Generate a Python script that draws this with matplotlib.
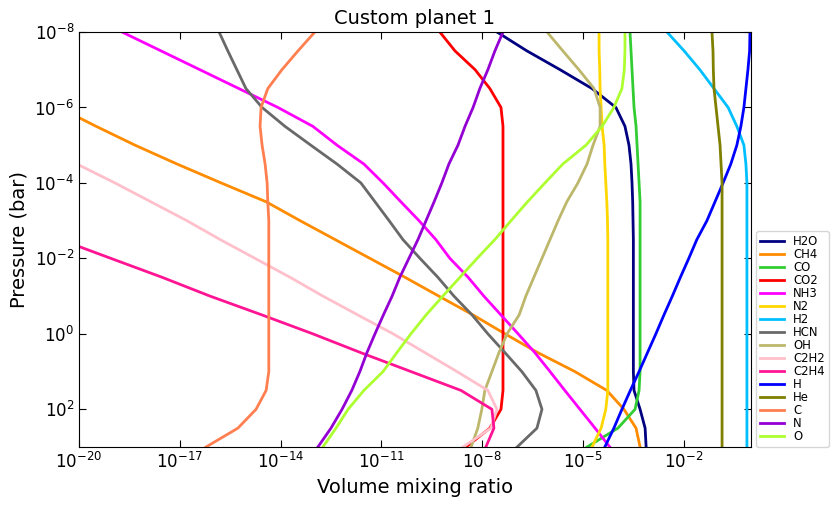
import numpy as np
import matplotlib
matplotlib.use('Agg')
import matplotlib.pyplot as plt
from matplotlib.ticker import FixedLocator, NullLocator, LogFormatterSciNotation

nan = np.nan

# pressure grid, log10(bar)
log_p = [-8, -7.5, -7, -6.5, -6, -5.5, -5, -4.5, -4, -3.5, -3, -2.5,
         -2, -1.5, -1, -0.5, 0, 0.5, 1, 1.5, 2, 2.5, 3]

# log10 volume mixing ratios
h2o = [-7.56, -6.67, -5.68, -4.73, -4.02, -3.75, -3.63, -3.57, -3.54, -3.52, -3.51, -3.5,
       -3.5, -3.5, -3.5, -3.5, -3.5, -3.5, -3.5, -3.48, -3.30, -3.15, -3.12]
ch4 = [nan, nan, nan, -21.4, -20.6, -19.49, -18.33, -17.08, -15.77, -14.43, -13.42, -12.38,
       -11.34, -10.30, -9.29, -8.27, -7.32, -6.34, -5.24, -4.29, -3.78, -3.42, -3.30]
co = [-3.60, -3.57, -3.54, -3.51, -3.48, -3.42, -3.39, -3.36, -3.33, -3.30, -3.30, -3.30,
      -3.30, -3.30, -3.30, -3.30, -3.30, -3.30, -3.30, -3.33, -3.45, -3.96, -4.88]
co2 = [-9.26, -8.81, -8.21, -7.77, -7.44, -7.38, -7.38, -7.38, -7.38, -7.38, -7.38, -7.38,
       -7.38, -7.38, -7.38, -7.38, -7.38, -7.38, -7.38, -7.38, -7.44, -7.77, -8.48]
nh3 = [-18.72, -17.56, -16.40, -15.24, -14.08, -13.04, -12.32, -11.52, -10.95, -10.42, -9.88, -9.38,
       -8.96, -8.42, -7.95, -7.44, -6.93, -6.43, -5.98, -5.54, -5.09, -4.64, -4.20]
n2 = [-4.52, -4.52, -4.50, -4.49, -4.46, -4.43, -4.37, -4.35, -4.32, -4.29, -4.27, -4.26,
      -4.26, -4.26, -4.26, -4.26, -4.26, -4.26, -4.26, -4.26, -4.32, -4.46, -4.73]
h2 = [-2.50, -1.99, -1.52, -1.10, -0.68, -0.42, -0.21, -0.15, -0.12, -0.12, -0.12, -0.12,
      -0.12, -0.12, -0.12, -0.12, -0.12, -0.12, -0.12, -0.12, -0.12, -0.12, -0.12]
hcn = [-15.83, -15.57, -15.30, -15.03, -14.55, -13.87, -13.10, -12.32, -11.61, -11.19, -10.77, -10.36,
       -9.85, -9.32, -8.84, -8.30, -7.83, -7.32, -6.82, -6.40, -6.22, -6.37, -6.96]
oh = [-6.07, -5.60, -5.12, -4.67, -4.49, -4.49, -4.70, -4.88, -5.15, -5.48, -5.74, -5.98,
      -6.22, -6.46, -6.70, -6.90, -7.26, -7.50, -7.71, -7.92, -8.01, -8.13, -8.33]
c2h2 = [nan, nan, nan, nan, nan, nan, -21.13, -20.06, -18.93, -17.86, -16.79, -15.80,
        -14.76, -13.72, -12.74, -11.70, -10.65, -9.70, -8.75, -7.83, -7.56, -7.74, -8.57]
c2h4 = [nan, nan, nan, nan, nan, nan, nan, nan, nan, nan, -22.08, -20.56,
        -19.05, -17.53, -16.10, -14.55, -13.04, -11.61, -10.12, -8.63, -7.71, -7.65, -7.89]
h = [-0.03, -0.04, -0.09, -0.15, -0.21, -0.30, -0.42, -0.60, -0.83, -1.07, -1.31, -1.61,
     -1.85, -2.10, -2.34, -2.59, -2.83, -3.08, -3.33, -3.59, -3.84, -4.08, -4.35]
he = [-1.16, -1.13, -1.12, -1.10, -1.04, -0.98, -0.92, -0.89, -0.86, -0.86, -0.86, -0.86,
      -0.86, -0.86, -0.86, -0.86, -0.86, -0.86, -0.86, -0.86, -0.86, -0.86, -0.86]
c = [-12.98, -13.48, -13.96, -14.38, -14.58, -14.61, -14.55, -14.46, -14.40, -14.38, -14.35, -14.35,
     -14.35, -14.35, -14.35, -14.35, -14.35, -14.35, -14.35, -14.43, -14.73, -15.27, -16.22]
n = [-7.38, -7.62, -7.83, -8.07, -8.27, -8.51, -8.72, -8.99, -9.20, -9.43, -9.67, -9.91,
     -10.18, -10.45, -10.68, -10.94, -11.19, -11.43, -11.64, -11.88, -12.17, -12.50, -12.89]
o = [-3.75, -3.75, -3.77, -3.84, -4.08, -4.43, -4.91, -5.60, -6.13, -6.65, -7.14, -7.62,
     -8.15, -8.66, -9.17, -9.67, -10.12, -10.54, -10.95, -11.52, -11.99, -12.35, -12.74]

species = ['H2O', 'CH4', 'CO', 'CO2', 'NH3', 'N2', 'H2', 'HCN', 'OH', 'C2H2', 'C2H4',
           'H', 'He', 'C', 'N', 'O']
profiles = [h2o, ch4, co, co2, nh3, n2, h2, hcn, oh, c2h2, c2h4, h, he, c, n, o]
colors = ['navy', 'darkorange', 'limegreen', 'red', 'magenta', 'gold', 'deepskyblue',
          'dimgray', 'darkkhaki', 'pink', 'deeppink', 'blue', 'olive', 'coral',
          'darkviolet', 'greenyellow']

fig = plt.figure(figsize=(8.4, 5.07), dpi=100)
ax = fig.add_axes([0.094, 0.1183, 0.8, 0.8186])

pressure = 10.0 ** np.array(log_p)
for name, prof, col in zip(species, profiles, colors):
    ax.plot(10.0 ** np.array(prof), pressure, color=col, lw=2, label=name)

ax.set_xscale('log')
ax.set_yscale('log')
ax.set_xlim(1e-20, 1)
ax.set_ylim(1e3, 1e-8)

ax.xaxis.set_major_locator(FixedLocator([10.0 ** k for k in range(-20, 1, 3)]))
ax.yaxis.set_major_locator(FixedLocator([10.0 ** k for k in range(-8, 3, 2)]))
ax.xaxis.set_major_formatter(LogFormatterSciNotation())
ax.yaxis.set_major_formatter(LogFormatterSciNotation())
ax.xaxis.set_minor_locator(NullLocator())
ax.yaxis.set_minor_locator(NullLocator())
ax.tick_params(which='both', direction='in', top=True, right=True, labelsize=12, length=5)

ax.set_xlabel('Volume mixing ratio', fontsize=14)
ax.set_ylabel('Pressure (bar)', fontsize=14)
ax.set_title('Custom planet 1', fontsize=14)

ax.legend(loc='lower left', bbox_to_anchor=(1.008, 0), borderaxespad=0, fontsize=8.4,
          handlelength=2.0, labelspacing=0.0, borderpad=0.35, handletextpad=0.8)

fig.savefig('out.png', dpi=100)
